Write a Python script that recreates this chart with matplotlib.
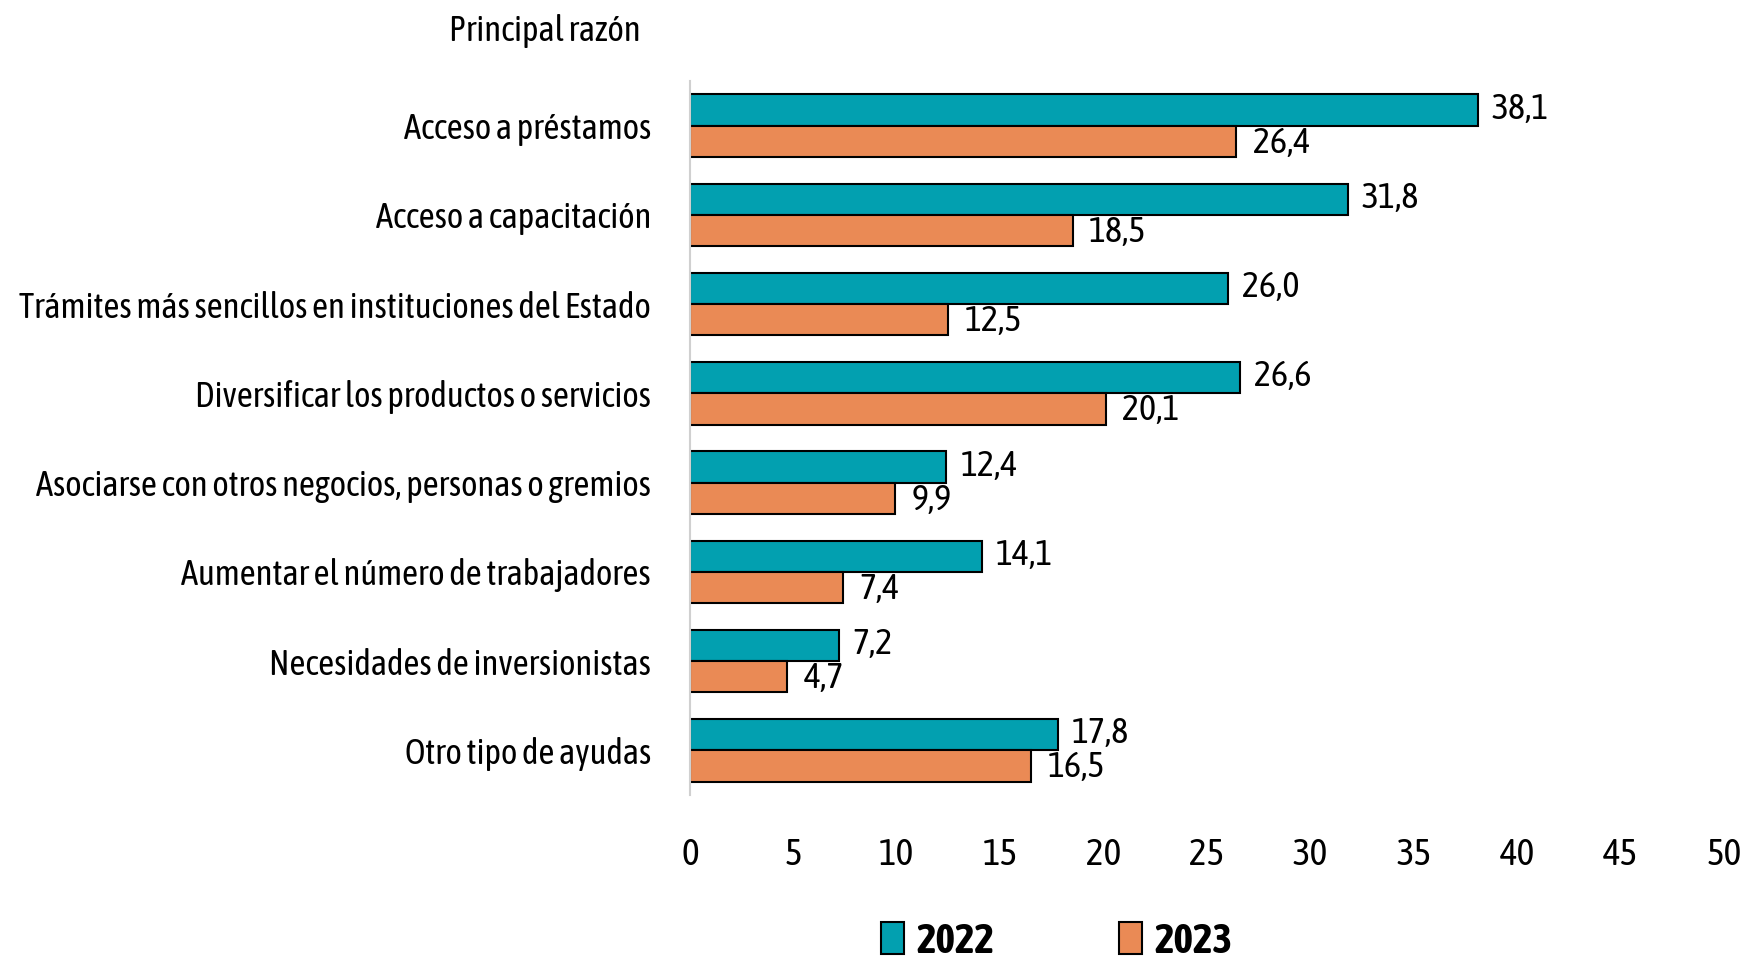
import matplotlib
matplotlib.use("Agg")
import matplotlib.pyplot as plt
from matplotlib import font_manager
import numpy as np

# pick a condensed face if one is installed, preferring one with a bold weight
entries = font_manager.fontManager.ttflist
cond = sorted({f.name for f in entries if "Condensed" in f.name or "Narrow" in f.name})
bold_ok = [n for n in cond
           if any(f.name == n and str(f.weight) in ("700", "bold") for f in entries)]
font = (bold_ok or cond or ["DejaVu Sans"])[0]
plt.rcParams["font.family"] = [font, "DejaVu Sans"]

categories = [
    "Acceso a préstamos",
    "Acceso a capacitación",
    "Trámites más sencillos en instituciones del Estado",
    "Diversificar los productos o servicios",
    "Asociarse con otros negocios, personas o gremios",
    "Aumentar el número de trabajadores",
    "Necesidades de inversionistas",
    "Otro tipo de ayudas",
]
v2022 = [38.1, 31.8, 26.0, 26.6, 12.4, 14.1, 7.2, 17.8]
v2023 = [26.4, 18.5, 12.5, 20.1, 9.9, 7.4, 4.7, 16.5]
xticks = [0, 5, 10, 15, 20, 25, 30, 35, 40, 45, 50]

c22 = "#02a0b0"
c23 = "#ea8a55"

fig = plt.figure(figsize=(17.44, 9.59), dpi=100)
ax = fig.add_axes([0.3956, 0.171, 0.593, 0.7445])

y = np.arange(len(categories))
h = 0.35
ax.barh(y - h / 2, v2022, height=h, color=c22, edgecolor="black", linewidth=1.5, label="2022")
ax.barh(y + h / 2, v2023, height=h, color=c23, edgecolor="black", linewidth=1.5, label="2023")

def fmt(v):
    return f"{v:.1f}".replace(".", ",")

for yi, v in zip(y - h / 2, v2022):
    ax.annotate(fmt(v), (v, yi), xytext=(10, 1), textcoords="offset points",
                ha="left", va="center", fontsize=26)
for yi, v in zip(y + h / 2, v2023):
    ax.annotate(fmt(v), (v, yi), xytext=(12, -1), textcoords="offset points",
                ha="left", va="center", fontsize=26)

ax.set_xlim(0, 50)
ax.set_ylim(len(categories) - 0.5, -0.5)
ax.set_yticks(y)
ax.set_yticklabels(categories, fontsize=25)
ax.set_xticks(xticks)
ax.set_xticklabels([str(t) for t in xticks], fontsize=27)
ax.tick_params(axis="y", length=0, pad=28)
ax.tick_params(axis="x", length=0, pad=30)
for s in ["top", "right", "bottom"]:
    ax.spines[s].set_visible(False)
ax.spines["left"].set_color("#d0d0d0")
ax.spines["left"].set_linewidth(1.5)

fig.text(0.3125, 0.968, "Principal razón", ha="center", va="center", fontsize=25)

leg = fig.legend(loc="center", bbox_to_anchor=(0.606, 0.018), ncol=2, frameon=False,
                 prop={"size": 30, "weight": "bold"}, handlelength=0.55, handleheight=0.8,
                 handletextpad=0.3, columnspacing=3.0)

fig.savefig("out.png", dpi=100)
